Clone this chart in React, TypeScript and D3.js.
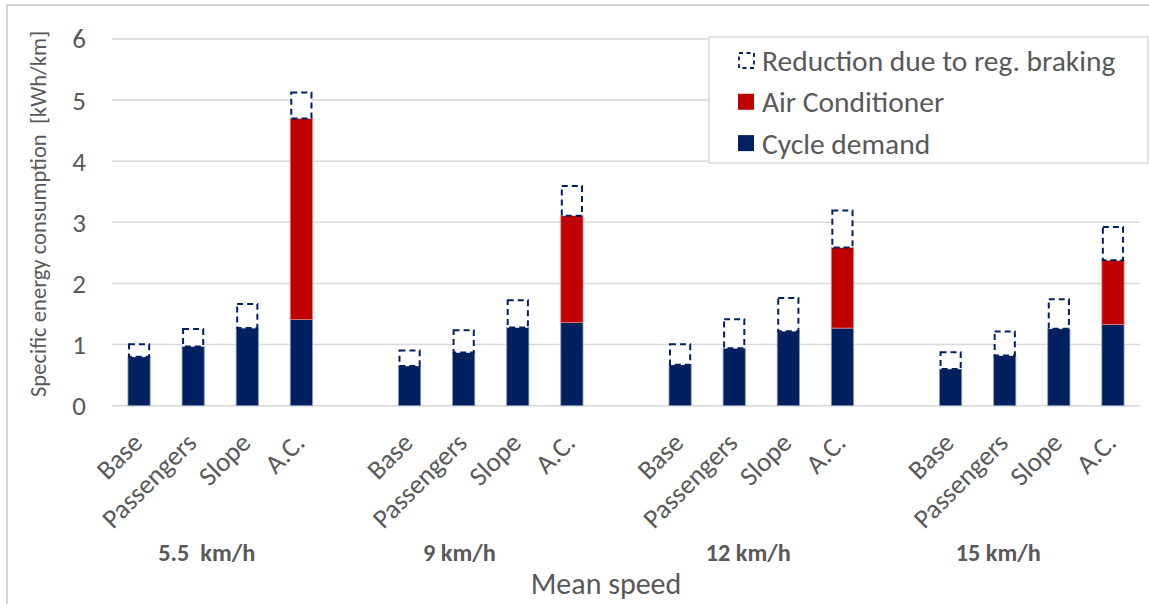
import React from "react";
import * as d3 from "d3";

const speeds = ["5.5  km/h", "9 km/h", "12 km/h", "15 km/h"];
const scenarios = ["Base", "Passengers", "Slope", "A.C."];
// one value per (speed, scenario), speed-major order
const cycleDemand = [0.8, 0.97, 1.27, 1.41, 0.65, 0.87, 1.28, 1.36, 0.67, 0.94, 1.22, 1.27, 0.6, 0.82, 1.26, 1.33];
const airConditioner = [0, 0, 0, 3.29, 0, 0, 0, 1.75, 0, 0, 0, 1.32, 0, 0, 0, 1.05];
const regBrakingReduction = [0.22, 0.3, 0.41, 0.44, 0.27, 0.38, 0.46, 0.5, 0.35, 0.49, 0.56, 0.62, 0.29, 0.41, 0.5, 0.56];
const yTicks = [0, 1, 2, 3, 4, 5, 6];
const legendLabels = ["Reduction due to reg. braking", "Air Conditioner", "Cycle demand"];

const W = 1149;
const H = 604;
const FONT = "Calibri, Carlito, Lato, sans-serif";
const TXT = "#595959";
const NAVY = "#002060";
const RED = "#C00000";

// label position offsets (slot units) for speed group labels
const groupLabelSlot = [1.25, 5.92, 11.26, 15.88];

export default function App() {
  const slotsPerGroup = scenarios.length + 1;
  const nSlots = speeds.length * slotsPerGroup - 1;
  const x = d3.scaleBand<number>().domain(d3.range(nSlots)).range([112, 1140]).paddingInner(0).paddingOuter(0);
  const y = d3.scaleLinear().domain([0, 6]).range([405.7, 39]);
  const bw = x.bandwidth() * 0.41;

  const rows = speeds.flatMap((sp, g) =>
    scenarios.map((sc, i) => {
      const k = g * scenarios.length + i;
      return { slot: g * slotsPerGroup + i, sc, cycle: cycleDemand[k], ac: airConditioner[k], red: regBrakingReduction[k] };
    })
  );
  const stack = d3.stack<any>().keys(["cycle", "ac", "red"]);
  const series = stack(rows);
  const cx = (slot: number) => (x(slot) as number) + x.bandwidth() / 2;
  const slotX = (s: number) => 112 + x.bandwidth() * (s + 0.5);

  return (
    <svg width={W} height={H} style={{ position: "absolute", left: 0, top: 0, background: "#fff" }} fontFamily={FONT}>
      <rect x={7} y={5} width={W + 20} height={H + 20} fill="#fff" stroke="#c8c8c8" strokeWidth={1.5} />
      {/* gridlines */}
      {yTicks.map((t) => (
        <g key={t}>
          <line x1={112} x2={1140} y1={y(t)} y2={y(t)} stroke="#d9d9d9" strokeWidth={1.5} />
          <text x={86} y={y(t)} dy="0.35em" textAnchor="end" fontSize={27} fill={TXT}>
            {t}
          </text>
        </g>
      ))}
      {/* bars */}
      {series.map((s) =>
        s.map((d, i) => {
          const h = y(d[0]) - y(d[1]);
          if (h <= 0) return null;
          const xx = cx(rows[i].slot) - bw / 2;
          if (s.key === "red") {
            return (
              <rect key={s.key + i} x={xx + 1} y={y(d[1]) + 1} width={bw - 2} height={h - 1} fill="#fff" stroke={NAVY} strokeWidth={2} strokeDasharray="6,4" />
            );
          }
          return (
            <rect key={s.key + i} x={xx} y={y(d[1])} width={bw} height={h} fill={s.key === "cycle" ? NAVY : RED} stroke={s.key === "cycle" ? "#8a98b8" : "#e08080"} strokeWidth={0.8} />
          );
        })
      )}
      {/* category labels */}
      {rows.map((r, i) => {
        const ax = cx(r.slot) + 5;
        const ay = 444.5;
        return (
          <text key={"c" + i} x={ax} y={ay} textAnchor="end" fontSize={27} fill={TXT} transform={`rotate(-45 ${ax} ${ay})`}>
            {r.sc}
          </text>
        );
      })}
      {speeds.map((sp, g) => (
        <text key={sp} x={slotX(groupLabelSlot[g])} y={561} textAnchor="middle" fontSize={24.3} fontWeight="bold" fill={TXT} style={{ whiteSpace: "pre" }}>
          {sp}
        </text>
      ))}
      <text x={606} y={594} textAnchor="middle" fontSize={30} fill={TXT}>
        Mean speed
      </text>
      <text transform="translate(46 214) rotate(-90)" textAnchor="middle" fontSize={22.6} fill={TXT} style={{ whiteSpace: "pre" }}>
        Specific energy consumption  [kWh/km]
      </text>
      {/* legend */}
      <rect x={709} y={37} width={439} height={126} fill="#fff" stroke="#d9d9d9" strokeWidth={1.5} />
      {legendLabels.map((l, i) => {
        const cy = 60.5 + i * 41.3;
        return (
          <g key={l}>
            {i === 0 ? (
              <rect x={739} y={cy - 7.5} width={15} height={15} fill="#fff" stroke={NAVY} strokeWidth={1.8} strokeDasharray="4,3.5" />
            ) : (
              <rect x={738} y={cy - 8} width={16} height={16} fill={i === 1 ? RED : NAVY} />
            )}
            <text x={762} y={cy} dy="0.36em" fontSize={29.5} fill={TXT}>
              {l}
            </text>
          </g>
        );
      })}
    </svg>
  );
}
